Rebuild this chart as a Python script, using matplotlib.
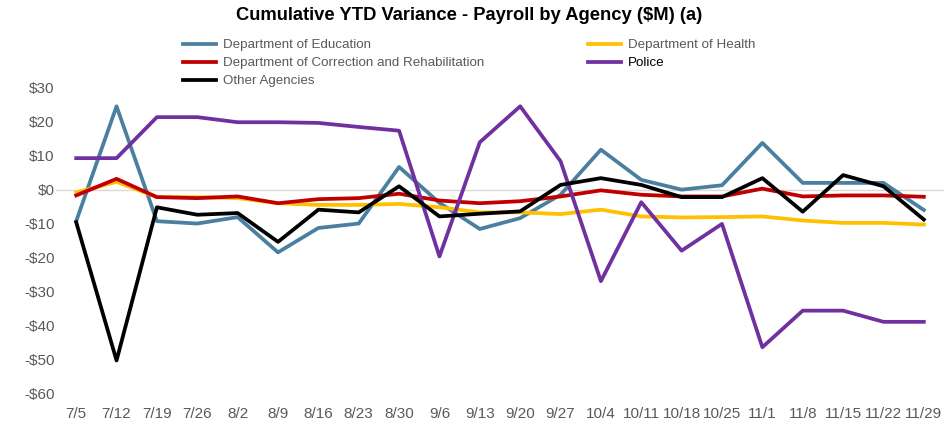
import matplotlib.pyplot as plt

# week labels
semanas = ["7/5", "7/12", "7/19", "7/26", "8/2", "8/9", "8/16", "8/23", "8/30", "9/6", "9/13",
           "9/20", "9/27", "10/4", "10/11", "10/18", "10/25", "11/1", "11/8", "11/15", "11/22", "11/29"]

# cumulative YTD variance ($M)
educacion = [-9.3, 24.6, -9.3, -10.0, -8.1, -18.5, -11.3, -10.0, 6.7, -3.9, -11.6,
             -8.4, -1.5, 11.8, 2.9, 0.0, 1.3, 13.8, 2.0, 2.0, 2.0, -6.0]
salud = [-0.8, 2.3, -2.2, -2.2, -2.5, -4.0, -4.5, -4.5, -4.2, -5.2, -6.7,
         -6.7, -7.2, -5.9, -7.9, -8.2, -8.1, -7.9, -9.1, -9.8, -9.8, -10.3]
correccion = [-1.7, 3.2, -2.2, -2.5, -2.0, -4.0, -2.8, -2.5, -1.2, -3.2, -4.0,
              -3.4, -2.0, -0.2, -1.5, -2.0, -2.0, 0.3, -2.0, -1.7, -1.7, -2.1]
policia = [9.3, 9.3, 21.4, 21.4, 19.9, 19.9, 19.7, 18.5, 17.4, -19.7, 14.0,
           24.6, 8.4, -27.0, -3.7, -18.0, -10.1, -46.5, -35.7, -35.7, -39.0, -39.0]
otras = [-9.6, -50.4, -5.2, -7.4, -6.9, -15.4, -5.9, -6.7, 1.0, -7.9, -7.1,
         -6.4, 1.4, 3.4, 1.4, -2.2, -2.2, 3.4, -6.5, 4.3, 1.0, -8.8]

y_ticks = list(range(-60, 31, 10))

plt.rcParams['font.family'] = ['Liberation Sans Narrow', 'Liberation Sans', 'DejaVu Sans']

fig = plt.figure(figsize=(9.44, 4.25), dpi=100)
ax = fig.add_axes([56 / 944, 1 - 393 / 425, 888 / 944, 305 / 425])

x = list(range(len(semanas)))
lw = 2.7
ax.axhline(0, color='#d9d9d9', linewidth=1, zorder=1)
l_edu, = ax.plot(x, educacion, color='#4a7fa0', linewidth=lw, label='Department of Education')
l_sal, = ax.plot(x, salud, color='#ffc000', linewidth=lw, label='Department of Health')
l_cor, = ax.plot(x, correccion, color='#c00000', linewidth=lw, label='Department of Correction and Rehabilitation')
l_pol, = ax.plot(x, policia, color='#7030a0', linewidth=lw, label='Police')
l_otr, = ax.plot(x, otras, color='black', linewidth=lw, label='Other Agencies')

ax.set_xlim(-0.5, len(semanas) - 0.5)
ax.set_ylim(-60, 30)
ax.set_yticks(y_ticks)
ax.set_yticklabels([f"${v}" if v >= 0 else f"-${-v}" for v in y_ticks])
ax.set_xticks(x)
ax.set_xticklabels(semanas)
ax.tick_params(axis='both', length=0, labelsize=11, colors='#595959')
ax.tick_params(axis='x', pad=10)
ax.tick_params(axis='y', pad=1)
for s in ax.spines.values():
    s.set_visible(False)

fig.text(0.497, 1 - 16 / 425, 'Cumulative YTD Variance - Payroll by Agency ($M) (a)',
         ha='center', va='center', fontsize=13.2, fontweight='bold')

# Leyenda en dos bloques
kw = dict(frameon=False, fontsize=9.6, handlelength=2.5, handletextpad=0.5,
          labelspacing=0.42, borderpad=0, borderaxespad=0, labelcolor='#595959')
leg1 = fig.legend(handles=[l_edu, l_cor, l_otr], loc='upper left',
                  bbox_to_anchor=(183 / 944, 1 - 39 / 425), **kw)
leg2 = fig.legend(handles=[l_sal, l_pol], loc='upper left',
                  bbox_to_anchor=(588 / 944, 1 - 39 / 425), **kw)
leg2.get_texts()[1].set_color('black')

plt.savefig('out.png', dpi=100)
plt.close()
